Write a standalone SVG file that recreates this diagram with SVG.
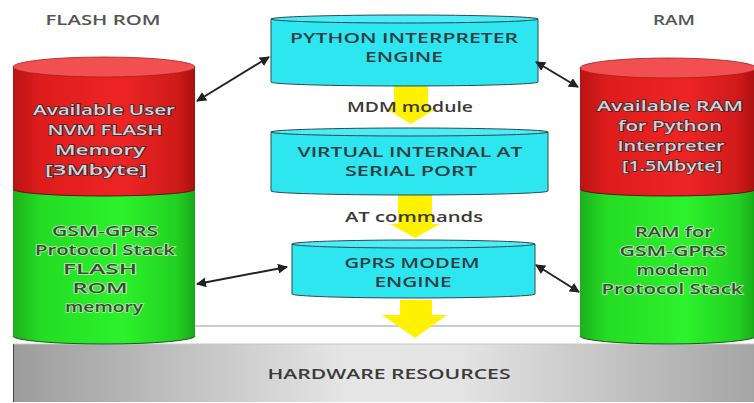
<svg xmlns="http://www.w3.org/2000/svg" width="754" height="403" viewBox="0 0 754 403">
<defs>
<linearGradient id="gRed" x1="0" y1="0" x2="1" y2="0">
<stop offset="0" stop-color="#b81414"/>
<stop offset="0.15" stop-color="#de1c1c"/>
<stop offset="0.6" stop-color="#ee2424"/>
<stop offset="0.9" stop-color="#d01a1a"/>
<stop offset="1" stop-color="#a81010"/>
</linearGradient>
<linearGradient id="gGreen" x1="0" y1="0" x2="1" y2="0">
<stop offset="0" stop-color="#1cb01c"/>
<stop offset="0.15" stop-color="#24dc24"/>
<stop offset="0.6" stop-color="#2cf22c"/>
<stop offset="0.9" stop-color="#22d022"/>
<stop offset="1" stop-color="#18a818"/>
</linearGradient>
<linearGradient id="gGray" x1="0" y1="0" x2="1" y2="0">
<stop offset="0" stop-color="#9c9c9c"/>
<stop offset="0.45" stop-color="#e6e6e6"/>
<stop offset="0.6" stop-color="#e4e4e4"/>
<stop offset="1" stop-color="#a4a4a4"/>
</linearGradient>
<marker id="ah" viewBox="0 0 10 10" refX="9" refY="5" markerWidth="5" markerHeight="5" orient="auto-start-reverse" markerUnits="strokeWidth">
<path d="M0,0 L10,5 L0,10 z" fill="#222"/>
</marker>
<style>
text{font-family:"Open Sans","DejaVu Sans","Liberation Sans",sans-serif;font-weight:600;text-anchor:middle}
.hdr{font-size:14px;fill:#555}
.cy{font-size:13.5px;fill:#2e3e44}
.lbl{font-size:15px;fill:#3a3a3a}
.rt{font-size:13.5px;fill:#d8cfd8;stroke:#3a2a2a;stroke-width:1.4;paint-order:stroke}
.gt{font-size:13.5px;fill:#3a4a3a;stroke:#b8f0b0;stroke-width:1.4;paint-order:stroke}
.cyl{fill:#2ee6f0;stroke:#2a4a50;stroke-width:1}
.cytop{fill:#4decf6;stroke:#2a4a50;stroke-width:1}
.yel{fill:#fff200}
.con{stroke:#222;stroke-width:2;fill:none;marker-start:url(#ah);marker-end:url(#ah)}
</style>
</defs>
<rect width="754" height="403" fill="#ffffff"/>

<g id="hardware">
<line x1="13" y1="326" x2="754" y2="326" stroke="#999" stroke-width="1"/>
<rect x="13" y="344" width="745" height="58" fill="url(#gGray)"/>
<line x1="13" y1="344" x2="754" y2="344" stroke="#c8c8c8" stroke-width="1"/>
<line x1="13.5" y1="344" x2="13.5" y2="402" stroke="#444" stroke-width="1"/>
<text class="lbl" x="389" y="379" textLength="243" lengthAdjust="spacingAndGlyphs">HARDWARE RESOURCES</text>
</g>

<g id="flash-rom">
<text class="hdr" x="103" y="25" textLength="115" lengthAdjust="spacingAndGlyphs">FLASH ROM</text>
<path d="M13,189 L13,336 A91,8 0 0 0 195,336 L195,189 Z" fill="url(#gGreen)"/>
<path d="M13,336 A91,8 0 0 0 195,336" fill="none" stroke="#1a5a1a" stroke-width="1"/>
<path d="M13,67 L13,189 A91,7 0 0 0 195,189 L195,67 Z" fill="url(#gRed)"/>
<path d="M13,189 A91,7 0 0 0 195,189" fill="none" stroke="#6a1010" stroke-width="1"/>
<ellipse cx="104" cy="67" rx="91" ry="10" fill="#f25050" stroke="#a02020" stroke-width="0.8"/>
<text class="rt" x="104" y="115" textLength="142" lengthAdjust="spacingAndGlyphs">Available User</text>
<text class="rt" x="105" y="135" textLength="115" lengthAdjust="spacingAndGlyphs">NVM FLASH</text>
<text class="rt" x="100" y="155" textLength="90" lengthAdjust="spacingAndGlyphs">Memory</text>
<text class="rt" x="96" y="175" textLength="102" lengthAdjust="spacingAndGlyphs">[3Mbyte]</text>
<text class="gt" x="105" y="236" textLength="106" lengthAdjust="spacingAndGlyphs">GSM-GPRS</text>
<text class="gt" x="105" y="255" textLength="140" lengthAdjust="spacingAndGlyphs">Protocol Stack</text>
<text class="gt" x="100" y="274" textLength="74" lengthAdjust="spacingAndGlyphs">FLASH</text>
<text class="gt" x="100" y="293" textLength="55" lengthAdjust="spacingAndGlyphs">ROM</text>
<text class="gt" x="104" y="312" textLength="78" lengthAdjust="spacingAndGlyphs">memory</text>
</g>

<g id="ram">
<text class="hdr" x="674" y="25" textLength="42" lengthAdjust="spacingAndGlyphs">RAM</text>
<path d="M580,189 L580,336 A88,8 0 0 0 756,336 L756,189 Z" fill="url(#gGreen)"/>
<path d="M580,336 A88,8 0 0 0 756,336" fill="none" stroke="#1a5a1a" stroke-width="1"/>
<path d="M580,68 L580,189 A88,7 0 0 0 756,189 L756,68 Z" fill="url(#gRed)"/>
<path d="M580,189 A88,7 0 0 0 756,189" fill="none" stroke="#6a1010" stroke-width="1"/>
<ellipse cx="668" cy="68" rx="88" ry="10" fill="#f25050" stroke="#a02020" stroke-width="0.8"/>
<text class="rt" x="670" y="111" textLength="146" lengthAdjust="spacingAndGlyphs">Available RAM</text>
<text class="rt" x="670" y="131" textLength="104" lengthAdjust="spacingAndGlyphs">for Python</text>
<text class="rt" x="671" y="151" textLength="107" lengthAdjust="spacingAndGlyphs">Interpreter</text>
<text class="rt" x="672" y="171" textLength="100" lengthAdjust="spacingAndGlyphs">[1.5Mbyte]</text>
<text class="gt" x="674" y="237" textLength="78" lengthAdjust="spacingAndGlyphs">RAM for</text>
<text class="gt" x="673" y="256" textLength="107" lengthAdjust="spacingAndGlyphs">GSM-GPRS</text>
<text class="gt" x="672" y="275" textLength="71" lengthAdjust="spacingAndGlyphs">modem</text>
<text class="gt" x="672" y="294" textLength="141" lengthAdjust="spacingAndGlyphs">Protocol Stack</text>
</g>

<g id="flow-arrows">
<path class="yel" d="M394,86 L428,86 L428,108 L437,108 L411,124 L385,108 L394,108 Z"/>
<path class="yel" d="M398,195 L432,195 L432,224 L440,224 L415,238 L390,224 L398,224 Z"/>
<path class="yel" d="M400,300 L432,300 L432,315 L447,315 L415,338 L382,315 L400,315 Z"/>
</g>

<g id="python-engine">
<path class="cyl" d="M271,19 L271,82 A133.5,4 0 0 0 538,82 L538,19 Z"/>
<ellipse class="cytop" cx="404.5" cy="19" rx="133.5" ry="4"/>
<text class="cy" x="404" y="43" textLength="228" lengthAdjust="spacingAndGlyphs">PYTHON INTERPRETER</text>
<text class="cy" x="404" y="62" textLength="78" lengthAdjust="spacingAndGlyphs">ENGINE</text>
</g>

<g id="mdm-label">
<text class="lbl" x="410" y="112" textLength="126" lengthAdjust="spacingAndGlyphs">MDM module</text>
</g>

<g id="virtual-at-port">
<path class="cyl" d="M271,132 L271,191 A138.5,4 0 0 0 548,191 L548,132 Z"/>
<ellipse class="cytop" cx="409.5" cy="132" rx="138.5" ry="4"/>
<text class="cy" x="410" y="157" textLength="225" lengthAdjust="spacingAndGlyphs">VIRTUAL INTERNAL AT</text>
<text class="cy" x="411" y="176" textLength="132" lengthAdjust="spacingAndGlyphs">SERIAL PORT</text>
</g>

<g id="at-label">
<text class="lbl" x="414" y="222" textLength="138" lengthAdjust="spacingAndGlyphs">AT commands</text>
</g>

<g id="gprs-engine">
<path class="cyl" d="M292,244 L292,294 A121.5,4 0 0 0 535,294 L535,244 Z"/>
<ellipse class="cytop" cx="413.5" cy="244" rx="121.5" ry="4"/>
<text class="cy" x="412" y="268" textLength="135" lengthAdjust="spacingAndGlyphs">GPRS MODEM</text>
<text class="cy" x="413" y="287" textLength="77" lengthAdjust="spacingAndGlyphs">ENGINE</text>
</g>

<g id="connectors">
<line class="con" x1="197" y1="101" x2="269" y2="57"/>
<line class="con" x1="536" y1="62" x2="578" y2="87"/>
<line class="con" x1="197" y1="284" x2="287" y2="267"/>
<line class="con" x1="536" y1="265" x2="579" y2="292"/>
</g>
</svg>
